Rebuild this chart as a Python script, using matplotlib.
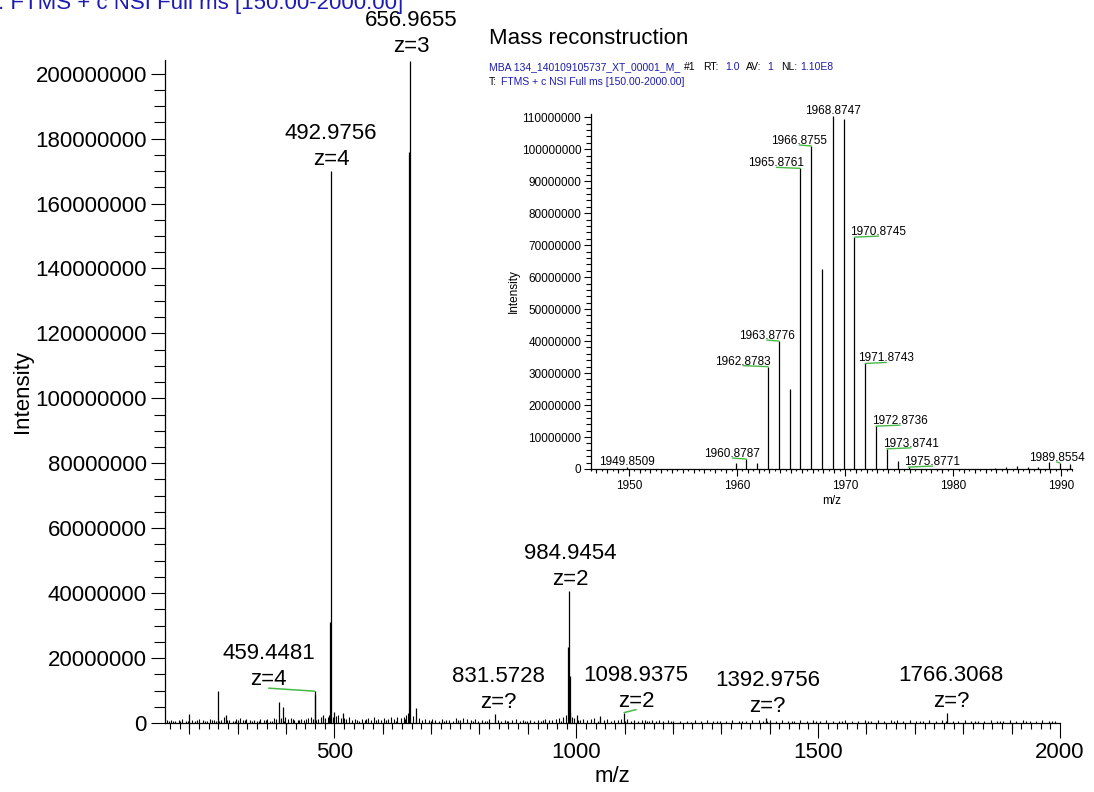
import matplotlib
matplotlib.use('Agg')
import matplotlib.pyplot as plt
from matplotlib.ticker import MultipleLocator, FixedLocator, FuncFormatter, NullFormatter

plt.rcParams['font.family'] = ['Liberation Sans', 'DejaVu Sans']

BLUE = '#1c1cb0'
GREEN = '#46b946'
W, H = 1094, 792

# full scan: m/z and intensity (millions of counts)
MAIN_MZ = [199.0, 259.4, 276.1, 385.6, 394.2, 459.20, 459.4481, 476.6,
           491.4, 492.9756, 499.1, 517.3,
           655.3, 656.9655, 668.2, 831.5728,
           983.6, 984.9454, 986.4, 987.6, 1001.5, 1049.0,
           1098.9375, 1392.9756, 1766.3068]
MAIN_INT = [2.8, 9.9, 2.5, 6.5, 4.9, 8.6, 9.8, 2.5,
            31.0, 170.0, 3.4, 3.0,
            176.0, 204.0, 4.7, 2.8,
            23.4, 40.6, 14.5, 3.0, 2.4, 2.2,
            3.2, 1.5, 3.1]

# baseline noise of the full scan (millions)
NOISE_MZ = [155, 163, 171, 178, 186, 193, 205, 212, 220, 228, 236, 243, 251, 266, 271,
            283, 290, 297, 305, 312, 318, 325, 333, 340, 347, 354, 361, 368, 375, 380,
            390, 399, 404, 410, 417, 424, 431, 438, 445, 451, 466, 472, 480, 486, 490,
            497, 503, 508, 513, 524, 530, 536, 543, 550, 557, 563, 570, 576, 583, 590,
            596, 603, 610, 617, 624, 630, 637, 643, 649, 652, 662, 675, 681, 688, 695,
            702, 709, 716, 723, 730, 738, 745, 752, 760, 767, 774, 782, 790, 797, 805,
            812, 820, 838, 845, 852, 860, 868, 875, 883, 890, 898, 905, 913, 920, 928,
            935, 943, 950, 958, 965, 972, 978, 991, 996, 1008, 1015, 1022, 1030, 1036,
            1050, 1057, 1064, 1071, 1079, 1086, 1092, 1106, 1113, 1120, 1128, 1135, 1142,
            1150, 1157, 1165, 1172, 1180, 1190, 1200, 1215, 1230, 1245, 1258, 1270, 1283,
            1297, 1310, 1322, 1336, 1350, 1363, 1377, 1386, 1400, 1412, 1425, 1438, 1450,
            1463, 1477, 1490, 1503, 1516, 1530, 1543, 1556, 1570, 1583, 1597, 1610, 1623,
            1637, 1650, 1663, 1676, 1690, 1703, 1716, 1730, 1743, 1756, 1778, 1790, 1803,
            1817, 1830, 1843, 1857, 1870, 1883, 1897, 1910, 1923, 1937, 1950, 1963, 1977, 1990,
            159, 167, 182, 198, 216, 232, 247, 256, 262, 279, 294, 301, 315, 329, 344,
            358, 372, 386, 395, 414, 428, 441, 455, 462, 477, 494, 519, 546, 566, 586,
            606, 627, 646, 668, 699, 727, 756, 786, 816, 856, 894, 931, 969, 1003, 1044,
            1100, 1146, 1195, 1238, 1290, 1343, 1394, 1445, 1496, 1549, 1603, 1657, 1711,
            1765, 1824, 1877, 1930, 1984]
NOISE_INT = [0.8, 1.0, 0.7, 0.9, 1.1, 0.6, 0.9, 0.7, 1.2, 0.8, 0.6, 1.3, 0.9, 1.0, 1.8,
             0.9, 0.7, 1.1, 1.4, 0.8, 1.2, 0.9, 1.0, 0.7, 1.3, 0.8, 1.1, 0.7, 1.5, 1.2,
             1.6, 1.9, 1.3, 1.4, 1.0, 0.8, 1.2, 0.9, 1.5, 1.7, 1.2, 1.9, 1.4, 2.0, 2.5,
             1.8, 2.2, 2.6, 1.5, 1.2, 1.8, 0.9, 1.1, 0.7, 1.3, 0.8, 1.6, 1.0, 1.9, 1.2,
             0.8, 1.5, 1.1, 1.7, 1.3, 2.0, 1.4, 1.8, 2.5, 3.0, 2.2, 1.6, 1.0, 1.3, 0.8,
             1.1, 0.9, 0.7, 1.2, 0.8, 1.0, 0.6, 1.4, 0.9, 1.6, 1.2, 0.8, 1.1, 0.7, 1.0,
             0.6, 1.3, 0.9, 0.7, 1.0, 0.6, 0.8, 1.1, 0.7, 0.9, 0.6, 1.0, 0.7, 0.9, 0.6,
             1.1, 0.8, 0.9, 1.2, 1.5, 1.8, 2.6, 2.0, 1.5, 1.0, 1.3, 0.8, 1.1, 1.4,
             1.2, 0.9, 1.3, 0.7, 1.0, 0.8, 1.2, 1.1, 0.7, 0.9, 0.6, 1.0, 0.8,
             0.6, 0.9, 0.7, 1.0, 0.6, 0.8, 0.6, 0.7, 0.5, 0.8, 0.6, 0.9, 0.5,
             0.7, 0.6, 0.9, 0.7, 0.6, 0.8, 1.0, 0.7, 0.9, 0.6, 0.8, 0.7, 0.5,
             0.8, 0.6, 0.9, 0.6, 0.8, 0.5, 0.7, 0.9, 0.6, 0.7, 0.8, 0.6, 0.9,
             0.7, 0.8, 1.0, 0.6, 0.9, 0.7, 0.6, 0.8, 0.6, 0.9, 0.7, 0.6, 0.8,
             0.5, 0.7, 0.6, 0.8, 0.5, 0.7, 0.9, 0.6, 0.8, 0.6, 0.7, 0.9, 0.6, 0.7,
             0.6, 0.5, 0.7, 0.6, 0.8, 0.5, 0.9, 0.6, 0.7, 1.0, 0.6, 0.8, 0.9, 0.6, 0.7,
             0.8, 0.6, 1.0, 0.7, 1.1, 0.8, 1.2, 1.3, 0.9, 1.1, 1.6, 1.4, 0.9, 1.2, 0.8,
             1.0, 0.7, 1.3, 1.1, 0.7, 0.6, 0.8, 0.5, 0.7, 0.5, 0.6, 0.8, 0.6, 0.9, 0.7,
             0.6, 0.5, 0.6, 0.4, 0.6, 0.5, 0.7, 0.5, 0.6, 0.5, 0.6, 0.7, 0.5,
             0.6, 0.5, 0.6, 0.5, 0.6]

LABEL_MZ = [459.4481, 492.9756, 656.9655, 831.5728, 984.9454, 1098.9375, 1392.9756, 1766.3068]
LABEL_Z = ['4', '4', '3', '?', '2', '2', '?', '?']
LABEL_DX = [-46, 0, 1, 4, 1, 12, 1, 4]          # pixels
LABEL_DY = [6, 6, 9, 6, 6, 6, 6, 6]             # pixels, baseline of "z=" line above peak
LABEL_LEAD = [True, False, False, False, False, True, False, False]

# mass reconstruction (zoom on the isotope cluster)
INSET_MZ = [1949.8509, 1959.88, 1960.8787, 1961.88, 1962.8783, 1963.8776, 1964.88,
            1965.8761, 1966.8755, 1967.87, 1968.8747, 1969.87, 1970.8745, 1971.8743,
            1972.8736, 1973.8741, 1974.87, 1975.8771, 1983.9, 1984.9, 1985.9, 1986.9,
            1987.9, 1988.86, 1989.8554, 1990.86]
INSET_INT = [0.5, 1.9, 3.1, 1.9, 32.0, 40.0, 25.0, 94.0, 101.0, 62.5, 110.3, 109.3,
             72.5, 33.0, 13.4, 6.3, 2.5, 0.6, 0.4, 0.7, 0.8, 0.6, 0.5, 2.2, 1.9, 1.5]

INSET_LABEL_MZ = [1949.8509, 1960.8787, 1962.8783, 1963.8776, 1965.8761, 1966.8755,
                  1968.8747, 1970.8745, 1971.8743, 1972.8736, 1973.8741, 1975.8771, 1989.8554]
INSET_LABEL_DX = [0, -14, -25, -12, -24, -12, 0, 24, 21, 24, 24, 24, -3]   # pixels
INSET_LABEL_LEAD = [False, True, True, True, True, True, False, True, True, True, True, True, True]


def height_of(mz, mzs, ints):
    i = min(range(len(mzs)), key=lambda k: abs(mzs[k] - mz))
    return ints[i] * 1e6


def style_axes(ax):
    for side in ('top', 'right'):
        ax.spines[side].set_visible(False)
    for side in ('left', 'bottom'):
        ax.spines[side].set_linewidth(0.9)


fig = plt.figure(figsize=(W / 100, H / 100), dpi=100)

# ---------------- main spectrum ----------------
ax = fig.add_axes([165 / W, 1 - 723 / H, 895 / W, 663 / H])
style_axes(ax)
ax.vlines(NOISE_MZ, 0, [v * 1e6 for v in NOISE_INT], color='black', lw=0.8)
ax.vlines(MAIN_MZ, 0, [v * 1e6 for v in MAIN_INT], color='black', lw=0.9)
ax.set_xlim(150, 2000)
ax.set_ylim(0, 204.2e6)

ax.yaxis.set_major_locator(MultipleLocator(20e6))
ax.yaxis.set_minor_locator(MultipleLocator(5e6))
ax.yaxis.set_major_formatter(FuncFormatter(lambda v, p: '%d' % round(v)))
ax.xaxis.set_major_locator(FixedLocator([500, 1000, 1500, 2000]))
ax.xaxis.set_minor_locator(MultipleLocator(20))
ax.tick_params(axis='y', which='major', length=10, width=0.8, pad=3, labelsize=16)
ax.tick_params(axis='y', which='minor', length=8, width=0.8)
ax.tick_params(axis='x', which='major', length=11, width=0.8, pad=3, labelsize=16)
ax.tick_params(axis='x', which='minor', length=4, width=0.8)
sec = ax.secondary_xaxis('bottom')
sec.spines['bottom'].set_visible(False)
sec.xaxis.set_major_locator(FixedLocator([v for v in range(200, 2000, 100) if v % 500]))
sec.xaxis.set_major_formatter(NullFormatter())
sec.tick_params(axis='x', which='major', length=8, width=0.8)
sec.xaxis.set_minor_locator(FixedLocator([]))

ax.set_xlabel('m/z', fontsize=16, labelpad=2)
ax.set_ylabel('Intensity', fontsize=16, labelpad=2)

for mz, z, dx, dy, lead in zip(LABEL_MZ, LABEL_Z, LABEL_DX, LABEL_DY, LABEL_LEAD):
    h = height_of(mz, MAIN_MZ, MAIN_INT)
    ax.annotate('z=' + z, xy=(mz, h), xytext=(dx, dy), textcoords='offset pixels',
                ha='center', va='baseline', fontsize=16)
    ax.annotate('%.4f' % mz, xy=(mz, h), xytext=(dx, dy + 26), textcoords='offset pixels',
                ha='center', va='baseline', fontsize=16)
    if lead:
        ax.annotate('', xy=(mz, h), xytext=(dx, 3), textcoords='offset pixels',
                    arrowprops=dict(arrowstyle='-', color=GREEN, lw=1.1, shrinkA=0, shrinkB=0))

fig.text(-13 / W, 1 - 4 / H, 'T: FTMS + c NSI Full ms [150.00-2000.00]', color=BLUE,
         fontsize=16, va='center', ha='left')

# ---------------- inset: mass reconstruction ----------------
ins = fig.add_axes([591 / W, 1 - 469 / H, 481 / W, 355 / H])
style_axes(ins)
ins.vlines(INSET_MZ, 0, [v * 1e6 for v in INSET_INT], color='black', lw=0.9)
ins.set_xlim(1946.5, 1991)
ins.set_ylim(0, 111e6)
ins.yaxis.set_major_locator(MultipleLocator(10e6))
ins.yaxis.set_minor_locator(MultipleLocator(2e6))
ins.yaxis.set_major_formatter(FuncFormatter(lambda v, p: '%d' % round(v)))
ins.xaxis.set_major_locator(MultipleLocator(10))
ins.xaxis.set_minor_locator(MultipleLocator(0.5))
ins.tick_params(axis='y', which='major', length=5, width=0.8, pad=2, labelsize=8.5)
ins.tick_params(axis='y', which='minor', length=3.5, width=0.8)
ins.tick_params(axis='x', which='major', length=5, width=0.8, pad=3, labelsize=8.5)
ins.tick_params(axis='x', which='minor', length=1.5, width=0.8)
sec2 = ins.secondary_xaxis('bottom')
sec2.spines['bottom'].set_visible(False)
sec2.xaxis.set_major_locator(FixedLocator([v for v in range(1947, 1991) if v % 10]))
sec2.xaxis.set_major_formatter(NullFormatter())
sec2.xaxis.set_minor_locator(FixedLocator([]))
sec2.tick_params(axis='x', which='major', length=3, width=0.8)
ins.set_xlabel('m/z', fontsize=8.5, labelpad=2)
ins.set_ylabel('Intensity', fontsize=8.5, labelpad=1)

for mz, dx, lead in zip(INSET_LABEL_MZ, INSET_LABEL_DX, INSET_LABEL_LEAD):
    h = height_of(mz, INSET_MZ, INSET_INT)
    ins.annotate('%.4f' % mz, xy=(mz, h), xytext=(dx, 2), textcoords='offset pixels',
                 ha='center', va='baseline', fontsize=8.5)
    if lead:
        ins.annotate('', xy=(mz, h), xytext=(dx, 1), textcoords='offset pixels',
                     arrowprops=dict(arrowstyle='-', color=GREEN, lw=1.0, shrinkA=0, shrinkB=0))

fig.text(489 / W, 1 - 38 / H, 'Mass reconstruction', fontsize=16, va='center', ha='left')
header1 = [(489, 'MBA 134_140109105737_XT_00001_M_', BLUE), (684, '#1', 'black'),
           (703, 'RT:', 'black'), (725, '1.0', BLUE), (746, 'AV:', 'black'),
           (767, '1', BLUE), (781, 'NL:', 'black'), (800, '1.10E8', BLUE)]
header2 = [(489, 'T:', 'black'), (501, 'FTMS + c NSI Full ms [150.00-2000.00]', BLUE)]
for px, txt, col in header1:
    fig.text(px / W, 1 - 67 / H, txt, fontsize=7.5, color=col, va='center', ha='left')
for px, txt, col in header2:
    fig.text(px / W, 1 - 82 / H, txt, fontsize=7.5, color=col, va='center', ha='left')

fig.savefig('out.png', dpi=100)
